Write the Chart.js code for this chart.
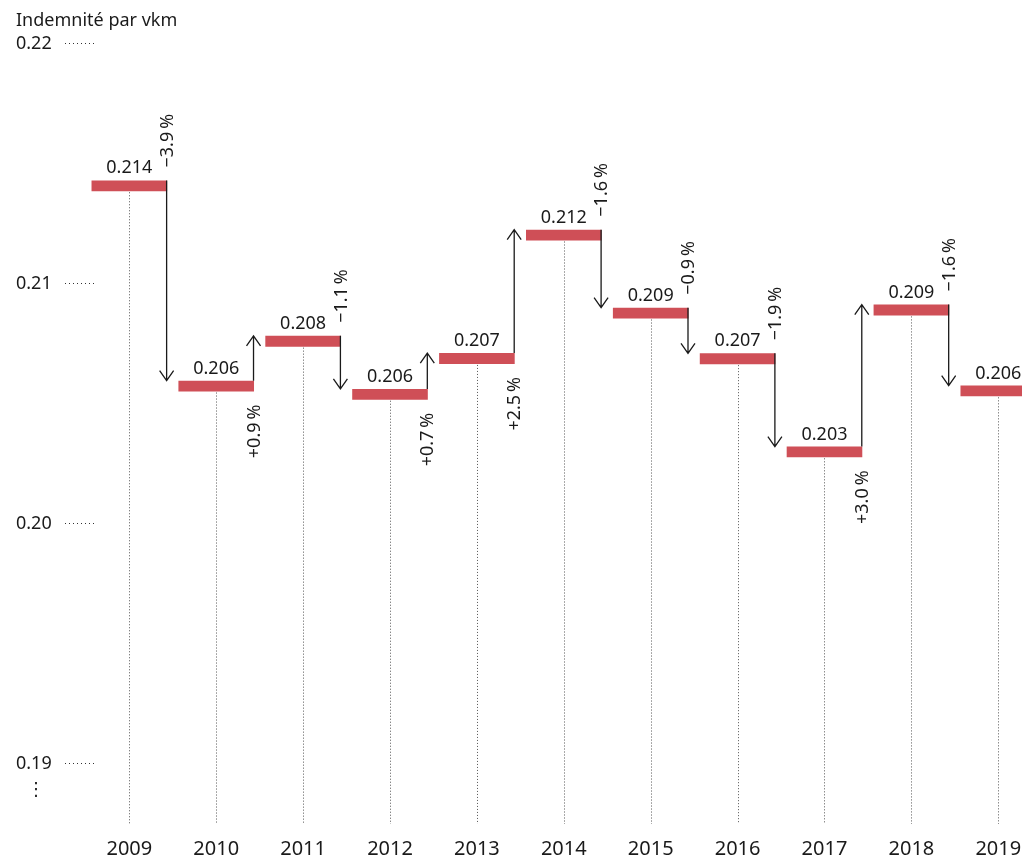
<!DOCTYPE html>
<html>
<head>
<meta charset="utf-8">
<title>Indemnité par vkm</title>
<script src="https://cdn.jsdelivr.net/npm/chart.js@4/dist/chart.umd.min.js"></script>
<style>
    body{ margin:0; background:#fff; }
    #wrap{ width:1022px; height:859px; position:relative; }
</style>
</head>
<body>
<div id="wrap"><canvas id="chart"></canvas></div>
<script>
let years = ["2009","2010","2011","2012","2013","2014","2015","2016","2017","2018","2019"];
let values = [0.2143, 0.20596, 0.20783, 0.20562, 0.20711, 0.21225, 0.2090, 0.2071, 0.20322, 0.20913, 0.20576];
let changeLabels = ["\u22123.9\u2009%", "+0.9\u2009%", "\u22121.1\u2009%", "+0.7\u2009%", "+2.5\u2009%",
                    "\u22121.6\u2009%", "\u22120.9\u2009%", "\u22121.9\u2009%", "+3.0\u2009%", "\u22121.6\u2009%"];
let yTicks = [0.19, 0.20, 0.21, 0.22];

const FONT = "'Noto Sans', 'DejaVu Sans', sans-serif";
const INK = "#1a1a1a";
const BAR_DEPTH = 0.00045; // thickness of the red step bars, in value units


function drawArrow(ctx, x, from, to){
    let dir = to > from ? 1 : -1;
    ctx.beginPath();
    ctx.moveTo(x, from);
    ctx.lineTo(x, to);
    ctx.moveTo(x - 7, to - dir*10);
    ctx.lineTo(x, to);
    ctx.lineTo(x + 7, to - dir*10);
    ctx.stroke();
}


// drop lines, value labels, arrows and % labels
const stepAnnotations = {
    id: "stepAnnotations",
    afterDatasetsDraw(chart){
        let ctx = chart.ctx;
        let bars = chart.getDatasetMeta(0).data;
        let bottom = chart.chartArea.bottom;

        ctx.save();
        bars.forEach(function(bar, i){
            let top = Math.min(bar.y, bar.base);
            let low = Math.max(bar.y, bar.base);
            let right = bar.x + bar.width/2 - 0.5;

            ctx.strokeStyle = "#555";
            ctx.lineWidth = 1;
            ctx.setLineDash([1,2]);
            ctx.beginPath();
            ctx.moveTo(Math.round(bar.x) + 0.5, low + 1);
            ctx.lineTo(Math.round(bar.x) + 0.5, bottom);
            ctx.stroke();
            ctx.setLineDash([]);

            ctx.fillStyle = INK;
            ctx.font = "18px " + FONT;
            ctx.textAlign = "center";
            ctx.textBaseline = "alphabetic";
            ctx.fillText(values[i].toFixed(3), bar.x, top - 7);

            if(i === bars.length - 1) return;

            let next = bars[i+1];
            let nextTop = Math.min(next.y, next.base);
            let goesDown = nextTop > top;

            ctx.strokeStyle = INK;
            ctx.lineWidth = 1.3;
            drawArrow(ctx, right, top, nextTop);

            ctx.save();
            ctx.translate(right + 1, goesDown ? top - 13 : low + 13);
            ctx.rotate(-Math.PI/2);
            ctx.textBaseline = "middle";
            ctx.textAlign = goesDown ? "left" : "right";
            ctx.fillText(changeLabels[i], 0, 0);
            ctx.restore();
        });

        // axis break mark under the lowest tick
        let y = chart.scales.y.getPixelForValue(yTicks[0]);
        ctx.fillStyle = INK;
        ctx.font = "18px 'DejaVu Sans', sans-serif";
        ctx.textAlign = "center";
        ctx.textBaseline = "middle";
        ctx.fillText("\u22EE", 36, y + 26);
        ctx.restore();
    }
};


function buildChart(){

    let ctx = document.getElementById("chart");

    let points = values.map(function(v, i){
        return { x: i, y: [v - BAR_DEPTH, v] };
    });

    new Chart(ctx, {
        type: "bar",
        data: {
            datasets: [{
                data: points,
                backgroundColor: "#cf4f57",
                borderWidth: 0,
                barPercentage: 1,
                categoryPercentage: 0.87,
                clip: false
            }]
        },
        options: {
            responsive: true,
            maintainAspectRatio: false,
            animation: false,
            devicePixelRatio: 1,
            layout: { padding: { left: 16, right: 0, top: 10, bottom: 0 } },
            plugins: {
                legend: { display: false },
                tooltip: { enabled: false },
                title: {
                    display: true,
                    text: "Indemnité par vkm",
                    align: "start",
                    color: INK,
                    font: { family: FONT, size: 18, weight: "normal" },
                    padding: { top: 0, bottom: 0 }
                }
            },
            scales: {
                x: {
                    type: "linear",
                    offset: false,
                    min: -0.395,
                    max: 10.273,
                    grid: { display: false, drawTicks: false },
                    border: { display: false },
                    afterBuildTicks: function(scale){
                        scale.ticks = years.map(function(y, i){ return { value: i }; });
                    },
                    afterFit: function(scale){
                        scale.paddingLeft = 0;
                        scale.paddingRight = 0;
                        scale.height = 35;
                    },
                    ticks: {
                        padding: 13,
                        maxRotation: 0,
                        autoSkip: false,
                        color: INK,
                        font: { family: FONT, size: 20 },
                        callback: function(v){ return years[v]; }
                    }
                },
                y: {
                    min: 0.1875,
                    max: 0.2205,
                    border: { display: false },
                    grid: {
                        drawOnChartArea: false,
                        drawTicks: true,
                        tickLength: 30,
                        tickColor: "#333",
                        tickWidth: 1,
                        tickBorderDash: [1,3]
                    },
                    afterBuildTicks: function(scale){
                        scale.ticks = yTicks.map(function(v){ return { value: v }; });
                    },
                    afterFit: function(scale){
                        scale.width = 79;
                        scale.paddingTop = 0;
                        scale.paddingBottom = 0;
                    },
                    ticks: {
                        crossAlign: "far",
                        color: INK,
                        font: { family: FONT, size: 18 },
                        callback: function(v){ return v.toFixed(2); }
                    }
                }
            }
        },
        plugins: [stepAnnotations]
    });
}

window.onload = buildChart;
</script>
</body>
</html>
